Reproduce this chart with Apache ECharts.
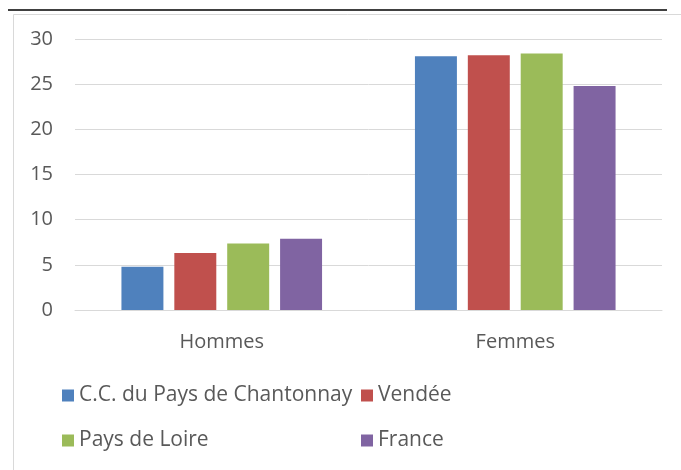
<!DOCTYPE html>
<html>
<head>
<meta charset="utf-8">
<script src="https://cdn.jsdelivr.net/npm/echarts@6/dist/echarts.min.js"></script>
<style>
  html, body { margin: 0; padding: 0; background: #fff; }
  #main { width: 681px; height: 470px; }
</style>
</head>
<body>
<div id="main"></div>
<script>
  // data
  var categories = ['Hommes', 'Femmes'];
  var seriesNames = ['C.C. du Pays de Chantonnay', 'Vendée', 'Pays de Loire', 'France'];
  var chantonnay = [4.8, 28.1];
  var vendee = [6.3, 28.2];
  var paysDeLoire = [7.35, 28.4];
  var france = [7.9, 24.8];
  var colors = ['#4F81BD', '#C0504D', '#9BBB59', '#8064A2'];

  var chartDom = document.getElementById('main');
  var myChart = echarts.init(chartDom);

  var font = "'Open Sans', 'Noto Sans', sans-serif";
  var values = [chantonnay, vendee, paysDeLoire, france];

  // one legend per item so the two columns line up like the original
  var legendPos = [[62, 385], [361, 385], [62, 430], [361, 430]];
  var legends = seriesNames.map(function (name, i) {
    return {
      data: [name],
      left: legendPos[i][0],
      top: legendPos[i][1],
      icon: 'rect',
      itemWidth: 12,
      itemHeight: 12,
      itemGap: 6,
      padding: 0,
      textStyle: { fontSize: 21, color: '#595959', fontFamily: font }
    };
  });

  var series = seriesNames.map(function (name, i) {
    return {
      name: name,
      type: 'bar',
      data: values[i],
      barWidth: '14.3%',
      barGap: '26%',
      itemStyle: { color: colors[i] }
    };
  });

  var option = {
    animation: false,
    color: colors,
    legend: legends,
    grid: { left: 75, right: 19, top: 39, height: 271 },
    xAxis: {
      type: 'category',
      data: categories,
      axisTick: { show: false },
      axisLine: { lineStyle: { color: '#d9d9d9', width: 1 } },
      axisLabel: { fontSize: 20, color: '#595959', fontFamily: font, margin: 22 }
    },
    yAxis: {
      type: 'value',
      min: 0,
      max: 30,
      interval: 5,
      axisLine: { show: false },
      axisTick: { show: false },
      splitLine: { lineStyle: { color: '#d9d9d9', width: 1 } },
      axisLabel: { fontSize: 20, color: '#595959', fontFamily: font, margin: 22 }
    },
    graphic: [
      {
        type: 'line',
        shape: { x1: 8, y1: 10, x2: 667, y2: 10 },
        style: { stroke: '#404040', lineWidth: 2 }
      },
      {
        type: 'polyline',
        shape: { points: [[13.5, 470], [13.5, 14.5], [681, 14.5]] },
        style: { stroke: '#d9d9d9', lineWidth: 1, fill: null }
      }
    ],
    series: series
  };

  option && myChart.setOption(option);
</script>
</body>
</html>
